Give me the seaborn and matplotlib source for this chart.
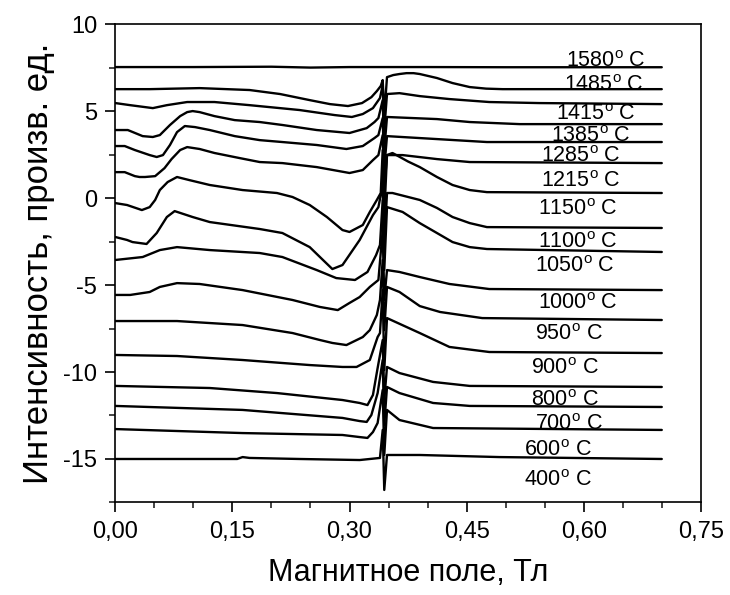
import matplotlib
matplotlib.use("Agg")
import matplotlib.pyplot as plt
from matplotlib.ticker import MultipleLocator, FuncFormatter
import pandas as pd
import seaborn as sns

# EPR spectra, stacked with offsets. field in T, intensity in arb. units
x_1580 = [0.0, 0.1, 0.2, 0.25, 0.3, 0.4, 0.5, 0.6, 0.7]
y_1580 = [7.53, 7.53, 7.55, 7.50, 7.53, 7.53, 7.52, 7.52, 7.52]

x_1485 = [0.0, 0.044, 0.108, 0.172, 0.211, 0.249, 0.275, 0.298, 0.316, 0.328, 0.335, 0.340,
          0.3425, 0.3445, 0.348, 0.356, 0.364, 0.373, 0.382, 0.390, 0.412, 0.432, 0.454, 0.475,
          0.496, 0.569, 0.70]
y_1485 = [6.26, 6.26, 6.32, 6.21, 5.98, 5.63, 5.40, 5.29, 5.46, 5.80, 6.15, 6.44,
          6.78, 4.77, 6.95, 7.07, 7.13, 7.18, 7.18, 7.13, 6.90, 6.61, 6.38, 6.29,
          6.26, 6.26, 6.26]

x_1415 = [0.0, 0.019, 0.048, 0.066, 0.092, 0.127, 0.172, 0.236, 0.281, 0.303, 0.317, 0.330, 0.339,
          0.3425, 0.3445, 0.348, 0.364, 0.390, 0.428, 0.479, 0.543, 0.70]
y_1415 = [5.46, 5.34, 5.17, 5.34, 5.52, 5.52, 5.34, 5.06, 4.77, 4.66, 4.83, 5.17, 5.75,
          6.49, 3.91, 5.98, 6.03, 5.86, 5.69, 5.52, 5.46, 5.40]

x_1385 = [0.0, 0.016, 0.035, 0.048, 0.057, 0.070, 0.083, 0.092, 0.099, 0.108, 0.127, 0.153, 0.185,
          0.214, 0.258, 0.300, 0.322, 0.332, 0.337, 0.3425, 0.3445, 0.348, 0.412, 0.454, 0.518, 0.70]
y_1385 = [3.91, 3.91, 3.56, 3.51, 3.62, 4.20, 4.71, 4.94, 5.00, 4.94, 4.71, 4.48, 4.37,
          4.20, 3.91, 3.74, 4.02, 4.37, 4.60, 5.63, 2.76, 4.66, 4.54, 4.37, 4.25, 4.25]

x_1285 = [0.0, 0.012, 0.025, 0.044, 0.053, 0.061, 0.070, 0.079, 0.089, 0.102, 0.121, 0.153, 0.185,
          0.214, 0.258, 0.296, 0.317, 0.332, 0.337, 0.3425, 0.3445, 0.348, 0.412, 0.476, 0.70]
y_1285 = [2.99, 2.99, 2.76, 2.47, 2.36, 2.47, 3.05, 3.79, 4.14, 4.08, 3.91, 3.56, 3.33,
          3.22, 3.05, 2.82, 2.99, 3.45, 3.62, 4.60, 1.72, 3.56, 3.39, 3.22, 3.22]

x_1215 = [0.0, 0.012, 0.025, 0.031, 0.038, 0.051, 0.063, 0.072, 0.083, 0.092, 0.108, 0.127, 0.159,
          0.185, 0.214, 0.258, 0.300, 0.317, 0.330, 0.337, 0.3425, 0.3445, 0.348, 0.368, 0.412,
          0.454, 0.70]
y_1215 = [1.49, 1.49, 1.26, 1.21, 1.21, 1.26, 1.72, 2.24, 2.76, 2.93, 2.82, 2.59, 2.30,
          2.07, 2.01, 1.78, 1.44, 1.61, 2.18, 2.47, 3.62, 0.46, 2.47, 2.47, 2.24,
          2.07, 2.01]

x_1150 = [0.0, 0.015, 0.034, 0.044, 0.051, 0.057, 0.067, 0.079, 0.095, 0.121, 0.163, 0.207, 0.227,
          0.249, 0.271, 0.291, 0.300, 0.317, 0.326, 0.335, 0.340, 0.3425, 0.3445, 0.348, 0.355,
          0.360, 0.375, 0.390, 0.412, 0.432, 0.454, 0.476, 0.70]
y_1150 = [-0.29, -0.40, -0.69, -0.52, -0.11, 0.46, 0.92, 1.21, 1.03, 0.75, 0.46, 0.29, 0.06,
          -0.40, -1.09, -1.84, -1.95, -1.55, -0.80, -0.11, 0.29, 2.76, -0.98, 2.47, 2.59,
          2.47, 2.10, 1.78, 1.21, 0.75, 0.46, 0.34, 0.29]

x_1100 = [0.0, 0.015, 0.022, 0.040, 0.053, 0.066, 0.076, 0.099, 0.121, 0.185, 0.214, 0.249, 0.266,
          0.278, 0.291, 0.313, 0.330, 0.337, 0.3425, 0.3445, 0.348, 0.355, 0.390, 0.412, 0.432,
          0.454, 0.476, 0.70]
y_1100 = [-2.24, -2.41, -2.53, -2.64, -2.01, -1.09, -0.75, -1.09, -1.38, -1.78, -2.01, -2.82, -3.56,
          -4.08, -3.85, -2.41, -0.98, -0.52, 0.75, -2.70, 0.29, 0.29, -0.11, -0.57, -1.09,
          -1.44, -1.67, -1.72]

x_1050 = [0.0, 0.035, 0.057, 0.079, 0.121, 0.185, 0.214, 0.258, 0.283, 0.307, 0.323, 0.334, 0.339,
          0.3425, 0.3445, 0.348, 0.368, 0.390, 0.412, 0.432, 0.454, 0.476, 0.70]
y_1050 = [-3.56, -3.39, -2.99, -2.82, -2.99, -3.16, -3.39, -4.14, -4.60, -4.71, -4.25, -3.28, -2.70,
          -0.11, -4.14, -0.52, -0.80, -1.44, -2.01, -2.53, -2.82, -2.93, -3.10]

x_1000 = [0.0, 0.019, 0.044, 0.057, 0.079, 0.108, 0.163, 0.227, 0.262, 0.285, 0.300, 0.313, 0.326,
          0.337, 0.3425, 0.3445, 0.348, 0.364, 0.390, 0.428, 0.479, 0.70]
y_1000 = [-5.57, -5.57, -5.40, -5.11, -4.89, -4.94, -5.29, -5.86, -6.26, -6.44, -6.03, -5.69, -5.11,
          -4.71, -1.84, -5.86, -4.14, -4.25, -4.54, -4.94, -5.23, -5.29]

x_950 = [0.0, 0.079, 0.163, 0.227, 0.262, 0.278, 0.296, 0.317, 0.326, 0.335, 0.339,
         0.3425, 0.3445, 0.348, 0.364, 0.390, 0.416, 0.470, 0.70]
y_950 = [-7.07, -7.07, -7.30, -7.76, -8.16, -8.33, -8.45, -7.99, -7.59, -6.72, -5.86,
         -3.56, -7.59, -5.11, -5.40, -6.21, -6.55, -6.90, -7.01]

x_900 = [0.0, 0.079, 0.163, 0.249, 0.291, 0.309, 0.326, 0.336, 0.339,
         0.3425, 0.3445, 0.348, 0.390, 0.428, 0.479, 0.70]
y_900 = [-9.02, -9.08, -9.31, -9.60, -9.71, -9.71, -9.31, -7.99, -7.76,
         -5.29, -9.89, -6.90, -7.76, -8.56, -8.85, -8.91]

x_800 = [0.0, 0.121, 0.207, 0.291, 0.313, 0.323, 0.330, 0.336,
         0.3425, 0.3445, 0.348, 0.364, 0.407, 0.454, 0.70]
y_800 = [-10.80, -10.92, -11.21, -11.61, -11.78, -11.90, -11.32, -9.77,
         -8.16, -11.61, -9.71, -10.06, -10.57, -10.80, -10.86]

x_700 = [0.0, 0.163, 0.291, 0.313, 0.322, 0.328, 0.336,
         0.3425, 0.3445, 0.348, 0.364, 0.407, 0.454, 0.70]
y_700 = [-11.95, -12.18, -12.64, -12.82, -12.87, -12.47, -11.21,
         -9.31, -13.05, -10.86, -11.21, -11.78, -11.95, -12.01]

x_600 = [0.0, 0.163, 0.291, 0.313, 0.323, 0.330, 0.336,
         0.3425, 0.3445, 0.348, 0.364, 0.407, 0.70]
y_600 = [-13.28, -13.51, -13.62, -13.74, -13.79, -13.45, -12.93,
         -11.03, -14.77, -12.18, -12.76, -13.22, -13.33]

x_400 = [0.0, 0.108, 0.156, 0.163, 0.172, 0.236, 0.313, 0.339,
         0.3425, 0.3445, 0.348, 0.390, 0.492, 0.70]
y_400 = [-15.0, -15.0, -15.0, -14.89, -14.94, -15.0, -15.06, -14.94,
         -13.33, -16.78, -14.77, -14.77, -14.89, -15.0]

curves = [(x_1580, y_1580), (x_1485, y_1485), (x_1415, y_1415), (x_1385, y_1385),
          (x_1285, y_1285), (x_1215, y_1215), (x_1150, y_1150), (x_1100, y_1100),
          (x_1050, y_1050), (x_1000, y_1000), (x_950, y_950), (x_900, y_900),
          (x_800, y_800), (x_700, y_700), (x_600, y_600), (x_400, y_400)]

# temperature labels and where they sit
temps = [1580, 1485, 1415, 1385, 1285, 1215, 1150, 1100, 1050, 1000, 950, 900, 800, 700, 600, 400]
label_x = [0.577, 0.575, 0.564, 0.558, 0.545, 0.545, 0.541, 0.541, 0.537, 0.542,
           0.537, 0.532, 0.532, 0.537, 0.523, 0.524]
label_y = [7.87, 6.49, 4.78, 3.55, 2.41, 0.98, -0.63, -2.53, -3.91, -6.09,
           -7.87, -9.77, -11.61, -12.99, -14.54, -16.26]

sns.set_style("ticks")
plt.rcParams['font.family'] = ['Liberation Sans', 'DejaVu Sans']
plt.rcParams['axes.unicode_minus'] = False
plt.rcParams['mathtext.default'] = 'regular'
plt.rcParams['text.color'] = 'black'
plt.rcParams['axes.labelcolor'] = 'black'

fig = plt.figure(figsize=(7.3, 5.95), dpi=100)
ax = fig.add_axes([0.158, 0.1555, 0.802, 0.804])

for xs, ys in curves:
    df = pd.DataFrame({"field": xs, "intensity": ys})
    sns.lineplot(data=df, x="field", y="intensity", sort=False, estimator=None,
                 color="black", linewidth=1.7, ax=ax)

for t, lx, ly in zip(temps, label_x, label_y):
    ax.text(lx, ly, f"{t}$^{{o}}$ C", fontsize=15.5, ha="left", va="center", color="black")

ax.set_xlim(0, 0.75)
ax.set_ylim(-17.5, 10)
ax.xaxis.set_major_locator(MultipleLocator(0.15))
ax.xaxis.set_minor_locator(MultipleLocator(0.05))
ax.yaxis.set_major_locator(MultipleLocator(5))
ax.yaxis.set_minor_locator(MultipleLocator(2.5))
ax.xaxis.set_major_formatter(FuncFormatter(lambda v, p: f"{v:.2f}".replace(".", ",")))
ax.yaxis.set_major_formatter(FuncFormatter(lambda v, p: f"{v:.0f}"))

for side in ["top", "right", "left", "bottom"]:
    ax.spines[side].set_visible(True)
    ax.spines[side].set_linewidth(1.2)
    ax.spines[side].set_color("black")
ax.tick_params(axis="both", which="major", direction="out", length=7, width=1.2,
               labelsize=17, colors="black", pad=6)
ax.tick_params(axis="both", which="minor", direction="out", length=4, width=1.2)

ax.set_xlabel("Магнитное поле, Тл", fontsize=22, labelpad=11)
ax.set_ylabel("Интенсивность, произв. ед.", fontsize=25, labelpad=6)

fig.savefig("out.png", dpi=100)
plt.close(fig)
